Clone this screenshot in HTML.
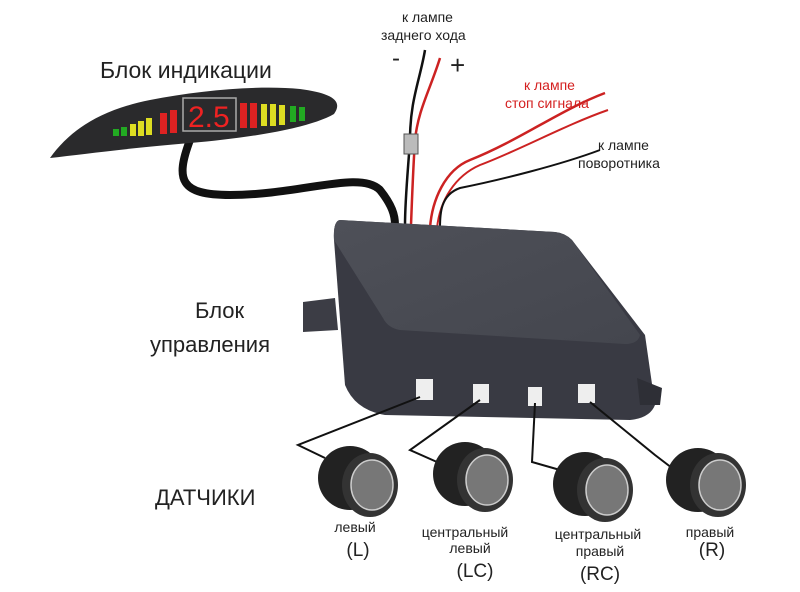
<!DOCTYPE html>
<html><head><meta charset="utf-8"><style>
html,body{margin:0;padding:0;background:#fff;}
svg{display:block;font-family:"Liberation Sans",sans-serif;}
</style></head><body>
<svg width="800" height="592" viewBox="0 0 800 592" xmlns="http://www.w3.org/2000/svg">
<defs>
<linearGradient id="top" x1="0" y1="0" x2="1" y2="1"><stop offset="0" stop-color="#4e5058"/><stop offset="1" stop-color="#44464e"/></linearGradient>
</defs>
<text x="100" y="78" font-size="23" fill="#222">Блок индикации</text>
<text x="402" y="22" font-size="14" fill="#222">к лампе</text>
<text x="381" y="40" font-size="14" fill="#222">заднего хода</text>
<text x="392" y="66" font-size="24" fill="#222">-</text>
<text x="450" y="74" font-size="26" fill="#222">+</text>
<text x="524" y="90" font-size="14" fill="#d42020">к лампе</text>
<text x="505" y="108" font-size="14" fill="#d42020">стоп сигнала</text>
<text x="598" y="150" font-size="14" fill="#222">к лампе</text>
<text x="578" y="168" font-size="14" fill="#222">поворотника</text>
<path d="M190 140 C175 180 180 195 230 195 C300 195 360 170 380 190 C392 205 395 215 395 225" stroke="#111" stroke-width="8" fill="none"/>
<path d="M425 50 C420 80 410 100 410 140 C408 170 405 200 405 225" stroke="#111" stroke-width="2.5" fill="none"/>
<path d="M440 58 C430 90 418 110 415 140 C413 170 412 200 411 225" stroke="#c22" stroke-width="2.5" fill="none"/>
<rect x="404" y="134" width="14" height="20" fill="#bbb" stroke="#555"/>
<path d="M605 93 C560 110 520 140 470 160 C445 170 432 200 430 228" stroke="#c22" stroke-width="2.5" fill="none"/>
<path d="M608 110 C565 125 520 150 480 165 C455 176 440 200 437 228" stroke="#c22" stroke-width="2" fill="none"/>
<path d="M600 150 C560 165 500 180 460 188 C440 195 440 215 440 228" stroke="#111" stroke-width="2" fill="none"/>
<!-- display -->
<path d="M50 158 C70 130 100 110 150 100 C200 90 260 85 300 89 C330 93 344 100 334 114 C310 128 250 138 190 143 C130 148 85 154 50 158 Z" fill="#2a2a2c"/>
<g>
<rect x="113" y="129" width="6" height="7" fill="#2a2"/><rect x="121" y="127" width="6" height="9" fill="#2a2"/>
<rect x="130" y="124" width="6" height="12" fill="#dd2"/><rect x="138" y="121" width="6" height="15" fill="#dd2"/><rect x="146" y="118" width="6" height="17" fill="#dd2"/>
<rect x="160" y="113" width="7" height="21" fill="#d22"/><rect x="170" y="110" width="7" height="23" fill="#d22"/>
<rect x="183" y="98" width="53" height="33" fill="none" stroke="#aaa" stroke-width="1.5"/>
<text x="188" y="127" font-size="30" fill="#e22">2.5</text>
<rect x="240" y="103" width="7" height="25" fill="#d22"/><rect x="250" y="103" width="7" height="25" fill="#d22"/>
<rect x="261" y="104" width="6" height="22" fill="#dd2"/><rect x="270" y="104" width="6" height="22" fill="#dd2"/><rect x="279" y="105" width="6" height="20" fill="#dd2"/>
<rect x="290" y="106" width="6" height="16" fill="#2a2"/><rect x="299" y="107" width="6" height="14" fill="#2a2"/>
</g>
<!-- box -->
<path d="M303 302 L335 298 L338 330 L303 332 Z" fill="#3c3d45"/>
<path d="M340 220 L555 232 Q565 233 572 240 L645 335 L655 405 Q650 418 630 420 L385 415 Q355 410 345 385 L334 240 Q333 221 340 220 Z" fill="#393a43"/>
<path d="M340 220 L555 232 Q565 233 572 240 L640 335 Q638 344 625 344 L400 330 Q388 328 383 318 L334 240 Q333 221 340 220 Z" fill="url(#top)"/>
<path d="M637 378 L662 388 L660 405 L640 405 Z" fill="#2e2f36"/>
<rect x="416" y="379" width="17" height="21" fill="#eee"/>
<rect x="473" y="384" width="16" height="19" fill="#eee"/>
<rect x="528" y="387" width="14" height="19" fill="#eee"/>
<rect x="578" y="384" width="17" height="19" fill="#eee"/>
<text x="195" y="318" font-size="22" fill="#222">Блок</text>
<text x="150" y="352" font-size="22" fill="#222">управления</text>
<text x="155" y="505" font-size="22" fill="#222">ДАТЧИКИ</text>
<g stroke="#111" stroke-width="2" fill="none">
<path d="M420 397 L298 445 L325 458"/>
<path d="M480 400 L410 450 L437 462"/>
<path d="M535 403 L532 462 L560 470"/>
<path d="M590 402 L655 455 L672 468"/>
</g>
<g>
<ellipse cx="350" cy="478" rx="32" ry="32" fill="#222"/><ellipse cx="370" cy="485" rx="28" ry="32" fill="#333"/><ellipse cx="372" cy="485" rx="21" ry="25" fill="#777" stroke="#ccc" stroke-width="1.5"/>
<ellipse cx="465" cy="474" rx="32" ry="32" fill="#222"/><ellipse cx="485" cy="480" rx="28" ry="32" fill="#333"/><ellipse cx="487" cy="480" rx="21" ry="25" fill="#777" stroke="#ccc" stroke-width="1.5"/>
<ellipse cx="585" cy="484" rx="32" ry="32" fill="#222"/><ellipse cx="605" cy="490" rx="28" ry="32" fill="#333"/><ellipse cx="607" cy="490" rx="21" ry="25" fill="#777" stroke="#ccc" stroke-width="1.5"/>
<ellipse cx="698" cy="480" rx="32" ry="32" fill="#222"/><ellipse cx="718" cy="485" rx="28" ry="32" fill="#333"/><ellipse cx="720" cy="485" rx="21" ry="25" fill="#777" stroke="#ccc" stroke-width="1.5"/>
</g>
<g font-size="14" fill="#222" text-anchor="middle">
<text x="355" y="532">левый</text><text x="358" y="556" font-size="19">(L)</text>
<text x="465" y="537">центральный</text><text x="470" y="553">левый</text><text x="475" y="577" font-size="19">(LC)</text>
<text x="598" y="539">центральный</text><text x="600" y="556">правый</text><text x="600" y="580" font-size="19">(RC)</text>
<text x="710" y="537">правый</text><text x="712" y="556" font-size="19">(R)</text>
</g>
</svg>
</body></html>
